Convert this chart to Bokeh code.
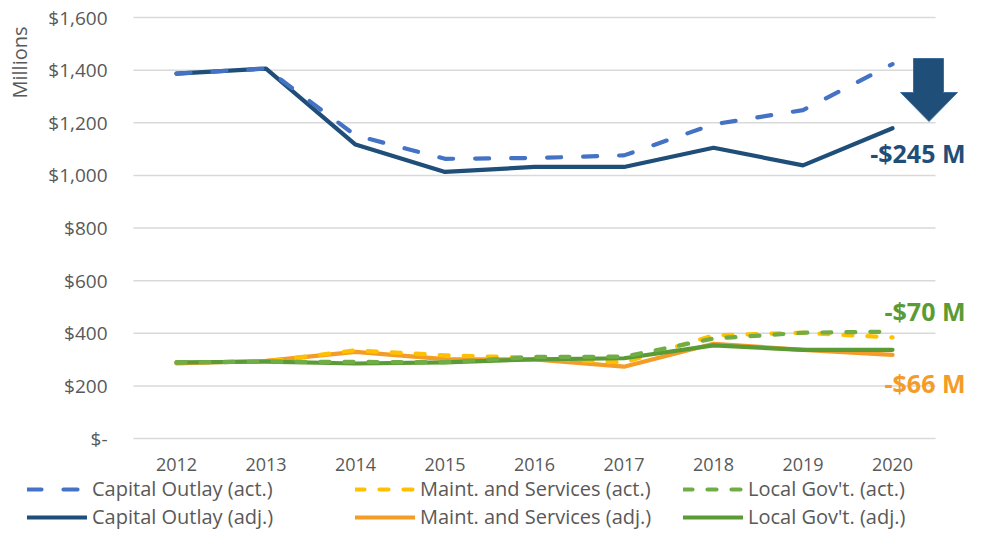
import math
from bokeh.plotting import figure
from bokeh.models import Range1d, Legend, LegendItem, Label, ColumnDataSource
from bokeh.core.properties import value
from bokeh.embed import file_html
from bokeh.resources import INLINE

# ---------------- data ----------------
years = [2012, 2013, 2014, 2015, 2016, 2017, 2018, 2019, 2020]
cap_act = [1387, 1406, 1152, 1063, 1066, 1076, 1194, 1248, 1423]
cap_adj = [1387, 1406, 1117, 1013, 1032, 1032, 1105, 1038, 1179]
maint_act = [289, 293, 335, 316, 307, 289, 392, 402, 384]
maint_adj = [285, 295, 329, 302, 301, 273, 360, 337, 318]
local_act = [289, 292, 291, 290, 310, 311, 380, 402, 406]
local_adj = [289, 292, 285, 289, 301, 305, 354, 337, 337]

series_names = ["Capital Outlay (act.)", "Maint. and Services (act.)", "Local Gov't. (act.)",
                "Capital Outlay (adj.)", "Maint. and Services (adj.)", "Local Gov't. (adj.)"]
y_ticks = [0, 200, 400, 600, 800, 1000, 1200, 1400, 1600]
y_tick_labels = ["$-", "$200", "$400", "$600", "$800", "$1,000", "$1,200", "$1,400", "$1,600"]
x_tick_labels = ["2012", "2013", "2014", "2015", "2016", "2017", "2018", "2019", "2020"]
callouts = ["-$245 M", "-$70 M", "-$66 M"]
y_title = "Millions"

FONT = "Open Sans"
GREY = "#595959"
C_CAP_ACT = "#4472C4"
C_CAP_ADJ = "#1F4E79"
C_MNT_ACT = "#FFC000"
C_MNT_ADJ = "#F39C27"
C_LOC_ACT = "#70AD47"
C_LOC_ADJ = "#5B9B36"

W, H = 966, 530
# layout: year pitch and plot-area placement in pixels
X0_PX, X_STEP = 176, 89.5          # pixel of first year, pixels per year
Y0_PX, Y_TOP_PX = 438, 17          # pixel of value 0 and of top tick
Y_SCALE = (Y0_PX - Y_TOP_PX) / (y_ticks[-1] - y_ticks[0])


def px_x(px):
    return years[0] + (px - X0_PX) / X_STEP


def px_y(py):
    return (Y0_PX - py) / Y_SCALE


src = ColumnDataSource(dict(x=years, cap_act=cap_act, cap_adj=cap_adj,
                            maint_act=maint_act, maint_adj=maint_adj,
                            local_act=local_act, local_adj=local_adj))

p = figure(width=W, height=H, output_backend="svg", toolbar_location=None,
           x_range=Range1d(px_x(0), px_x(W)), y_range=Range1d(px_y(H), px_y(0)),
           x_axis_type=None, y_axis_type=None,
           min_border_left=0, min_border_right=0, min_border_top=0, min_border_bottom=0)
p.outline_line_color = None
p.grid.visible = False
p.background_fill_color = "white"
p.border_fill_color = "white"

# gridlines across the plot area, at the y ticks
p.segment(x0=px_x(133), x1=px_x(935), y0=y_ticks, y1=y_ticks,
          line_color="#D9D9D9", line_width=1.5)

# tick labels
p.text(x=px_x(107), y=y_ticks, text=y_tick_labels, text_align="right",
       text_baseline="middle", text_font=value(FONT), text_font_size=value("19px"),
       text_color=GREY)
p.text(x=years, y=px_y(464), text=x_tick_labels, text_align="center",
       text_baseline="middle", text_font=value(FONT), text_font_size=value("18px"),
       text_color=GREY)

LW = 4.2
r_cap_adj = p.line("x", "cap_adj", source=src, line_color=C_CAP_ADJ, line_width=LW,
                   line_join="round", line_cap="round")
r_cap_act = p.line("x", "cap_act", source=src, line_color=C_CAP_ACT, line_width=LW,
                   line_dash="14 22", line_cap="round", line_join="round")
r_mnt_adj = p.line("x", "maint_adj", source=src, line_color=C_MNT_ADJ, line_width=LW,
                   line_join="round", line_cap="round")
r_mnt_act = p.line("x", "maint_act", source=src, line_color=C_MNT_ACT, line_width=LW,
                   line_dash="9 15", line_cap="round", line_join="round")
r_loc_adj = p.line("x", "local_adj", source=src, line_color=C_LOC_ADJ, line_width=LW,
                   line_join="round", line_cap="round")
r_loc_act = p.line("x", "local_act", source=src, line_color=C_LOC_ACT, line_width=LW,
                   line_dash="9 15", line_cap="round", line_join="round")

# down arrow annotation
arrow_px = [(913, 58), (943, 58), (943, 92), (957, 92), (928.5, 121), (900, 92), (913, 92)]
p.patch([px_x(a) for a, b in arrow_px], [px_y(b) for a, b in arrow_px],
        fill_color=C_CAP_ADJ, line_color="#3E6E9E", line_width=1)

# callout labels
for txt, py, col in zip(callouts, [152, 310, 382], [C_CAP_ADJ, C_LOC_ADJ, C_MNT_ADJ]):
    p.add_layout(Label(x=px_x(965), y=px_y(py), text=txt, text_align="right",
                       text_baseline="middle", text_font=FONT, text_font_size="25px",
                       text_font_style="bold", text_color=col))

# y-axis title
p.add_layout(Label(x=px_x(19), y=px_y(62), text=y_title, angle=math.pi / 2,
                   text_align="center", text_baseline="middle", text_font=FONT,
                   text_font_size="20px", text_color=GREY))

legend = Legend(items=[
    LegendItem(label=series_names[0], renderers=[r_cap_act]),
    LegendItem(label=series_names[1], renderers=[r_mnt_act]),
    LegendItem(label=series_names[2], renderers=[r_loc_act]),
    LegendItem(label=series_names[3], renderers=[r_cap_adj]),
    LegendItem(label=series_names[4], renderers=[r_mnt_adj]),
    LegendItem(label=series_names[5], renderers=[r_loc_adj]),
], orientation="horizontal", ncols=3, location=(27, 0),
    label_text_font=FONT, label_text_font_size="20px", label_text_color=GREY,
    glyph_width=60, glyph_height=20, label_standoff=5, label_width=262, spacing=1,
    padding=0, margin=0, background_fill_alpha=0, border_line_alpha=0)
p.add_layout(legend, "center")

open("out.html", "w").write(file_html(p, INLINE))
